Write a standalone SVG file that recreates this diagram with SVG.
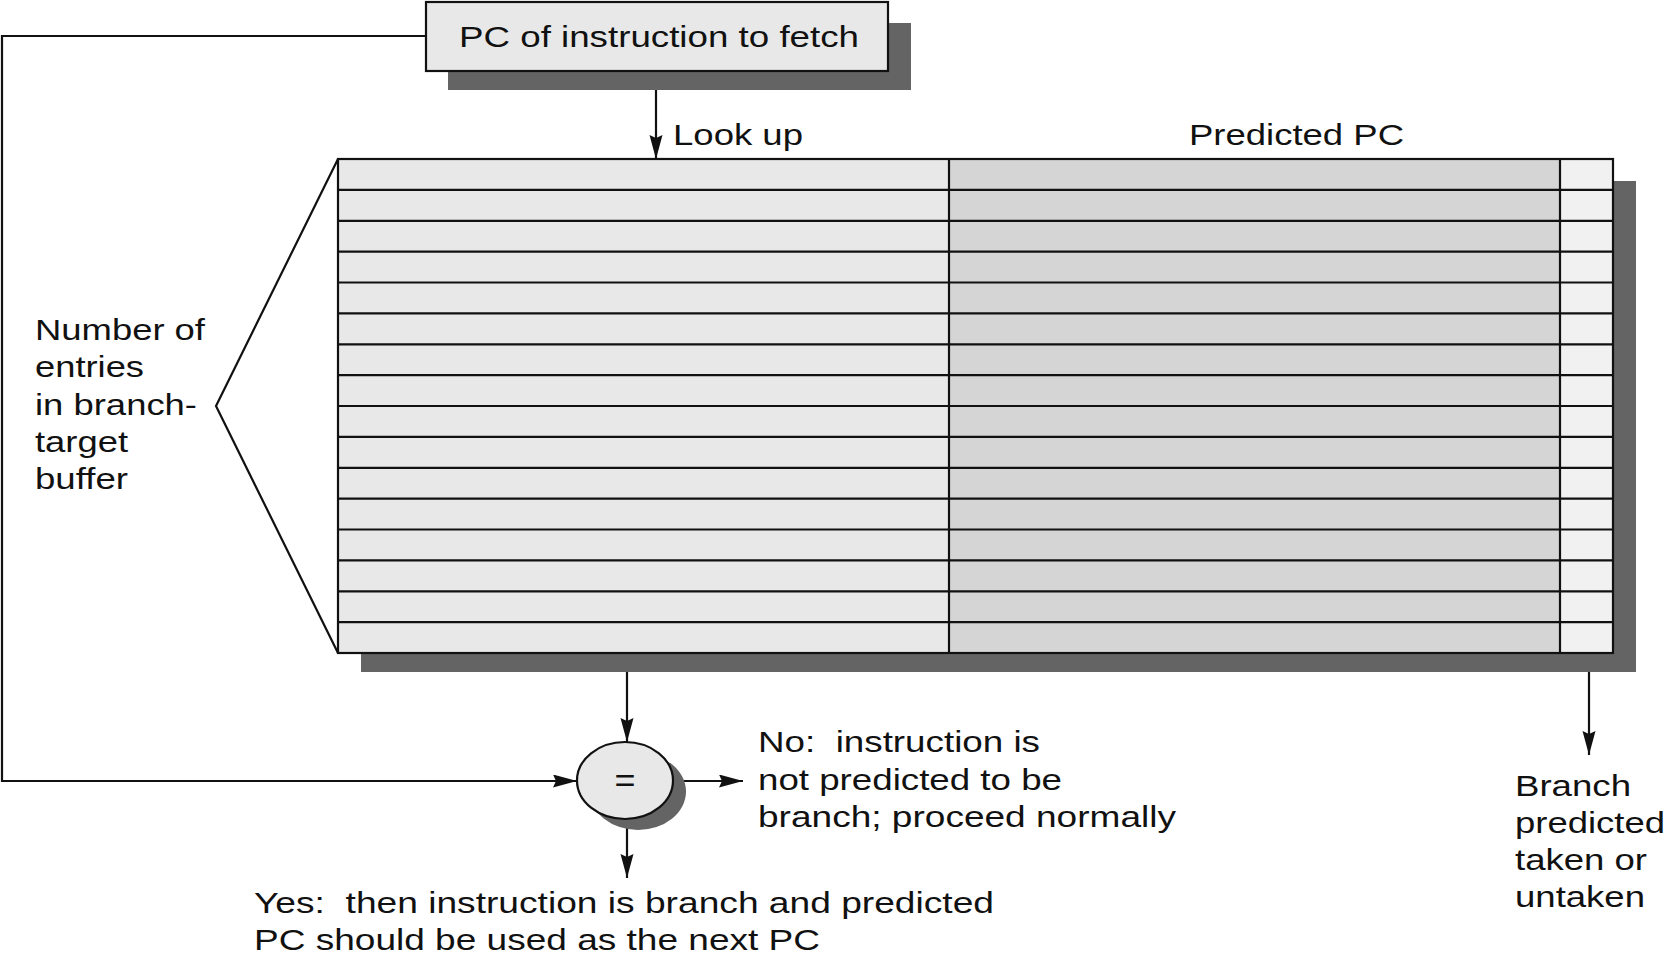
<svg xmlns="http://www.w3.org/2000/svg" width="1667" height="958" viewBox="0 0 1667 958">
<style>
  text { font-family: "Liberation Sans", Arial, Helvetica, sans-serif; font-size: 30px; fill: #111; }
  .box { fill: #e8e8e8; stroke: #111; stroke-width: 2.2; }
  .shadow { fill: #646464; stroke: none; }
  .ln { fill: none; stroke: #111; stroke-width: 2.2; }
  .arr { fill: none; stroke: #111; stroke-width: 2.2; marker-end: url(#ah); }
</style>
<defs>
  <marker id="ah" markerUnits="userSpaceOnUse" markerWidth="26" markerHeight="14" refX="24" refY="6.5" orient="auto">
    <path d="M0,0 L24,6.5 L0,13 L3,6.5 z" fill="#111"/>
  </marker>
</defs>
<rect x="0" y="0" width="1667" height="958" fill="#ffffff"/>

<g id="connectors">
  <polyline class="arr" points="426,36 2,36 2,781 577,781"/>
  <line class="arr" x1="656" y1="71" x2="656" y2="159"/>
  <line class="arr" x1="627" y1="653" x2="627" y2="742"/>
  <line class="arr" x1="673" y1="781" x2="743" y2="781"/>
  <line class="arr" x1="627" y1="819" x2="627" y2="878"/>
  <line class="arr" x1="1589" y1="653" x2="1589" y2="755"/>
</g>

<g id="pc-fetch">
  <rect class="shadow" x="448" y="23" width="463" height="67"/>
  <rect class="box" x="426" y="2" width="462" height="69"/>
  <text x="459" y="47" textLength="400" lengthAdjust="spacingAndGlyphs">PC of instruction to fetch</text>
</g>

<g id="btb">
  <rect class="shadow" x="361" y="181" width="1275" height="491"/>
  <rect x="338" y="159" width="611" height="494" fill="#e8e8e8"/>
  <rect x="949" y="159" width="611" height="494" fill="#d5d5d5"/>
  <rect x="1560" y="159" width="53" height="494" fill="#f1f1f1"/>
  <g class="ln">
    <line x1="338" y1="189.9" x2="1613" y2="189.9"/>
    <line x1="338" y1="220.8" x2="1613" y2="220.8"/>
    <line x1="338" y1="251.6" x2="1613" y2="251.6"/>
    <line x1="338" y1="282.5" x2="1613" y2="282.5"/>
    <line x1="338" y1="313.4" x2="1613" y2="313.4"/>
    <line x1="338" y1="344.3" x2="1613" y2="344.3"/>
    <line x1="338" y1="375.1" x2="1613" y2="375.1"/>
    <line x1="338" y1="406" x2="1613" y2="406"/>
    <line x1="338" y1="436.9" x2="1613" y2="436.9"/>
    <line x1="338" y1="467.8" x2="1613" y2="467.8"/>
    <line x1="338" y1="498.6" x2="1613" y2="498.6"/>
    <line x1="338" y1="529.5" x2="1613" y2="529.5"/>
    <line x1="338" y1="560.4" x2="1613" y2="560.4"/>
    <line x1="338" y1="591.3" x2="1613" y2="591.3"/>
    <line x1="338" y1="622.1" x2="1613" y2="622.1"/>
    <line x1="949" y1="159" x2="949" y2="653"/>
    <line x1="1560" y1="159" x2="1560" y2="653"/>
    <rect x="338" y="159" width="1275" height="494"/>
    <polyline points="338,159 216,406 338,653"/>
  </g>
</g>

<g id="compare">
  <ellipse class="shadow" cx="638" cy="791.5" rx="48" ry="38.5"/>
  <ellipse class="box" cx="625" cy="780.5" rx="48" ry="38.5"/>
  <text x="625" y="792" text-anchor="middle" style="font-size:34px" textLength="21" lengthAdjust="spacingAndGlyphs">=</text>
</g>

<g id="labels">
  <text x="673" y="145" textLength="130" lengthAdjust="spacingAndGlyphs">Look up</text>
  <text x="1189" y="145" textLength="215" lengthAdjust="spacingAndGlyphs">Predicted PC</text>
  <text x="35" y="340" textLength="170" lengthAdjust="spacingAndGlyphs">Number of</text>
  <text x="35" y="377" textLength="109" lengthAdjust="spacingAndGlyphs">entries</text>
  <text x="35" y="414.5" textLength="162" lengthAdjust="spacingAndGlyphs">in branch-</text>
  <text x="35" y="451.5" textLength="93" lengthAdjust="spacingAndGlyphs">target</text>
  <text x="35" y="489" textLength="93" lengthAdjust="spacingAndGlyphs">buffer</text>
  <text x="758" y="752" textLength="282" lengthAdjust="spacingAndGlyphs" xml:space="preserve">No:  instruction is</text>
  <text x="758" y="790" textLength="304" lengthAdjust="spacingAndGlyphs">not predicted to be</text>
  <text x="758" y="827" textLength="418" lengthAdjust="spacingAndGlyphs">branch; proceed normally</text>
  <text x="254" y="913" textLength="740" lengthAdjust="spacingAndGlyphs" xml:space="preserve">Yes:  then instruction is branch and predicted</text>
  <text x="254" y="950" textLength="566" lengthAdjust="spacingAndGlyphs">PC should be used as the next PC</text>
  <text x="1515" y="796" textLength="116" lengthAdjust="spacingAndGlyphs">Branch</text>
  <text x="1515" y="833" textLength="150" lengthAdjust="spacingAndGlyphs">predicted</text>
  <text x="1515" y="870" textLength="132" lengthAdjust="spacingAndGlyphs">taken or</text>
  <text x="1515" y="907" textLength="130" lengthAdjust="spacingAndGlyphs">untaken</text>
</g>
</svg>
